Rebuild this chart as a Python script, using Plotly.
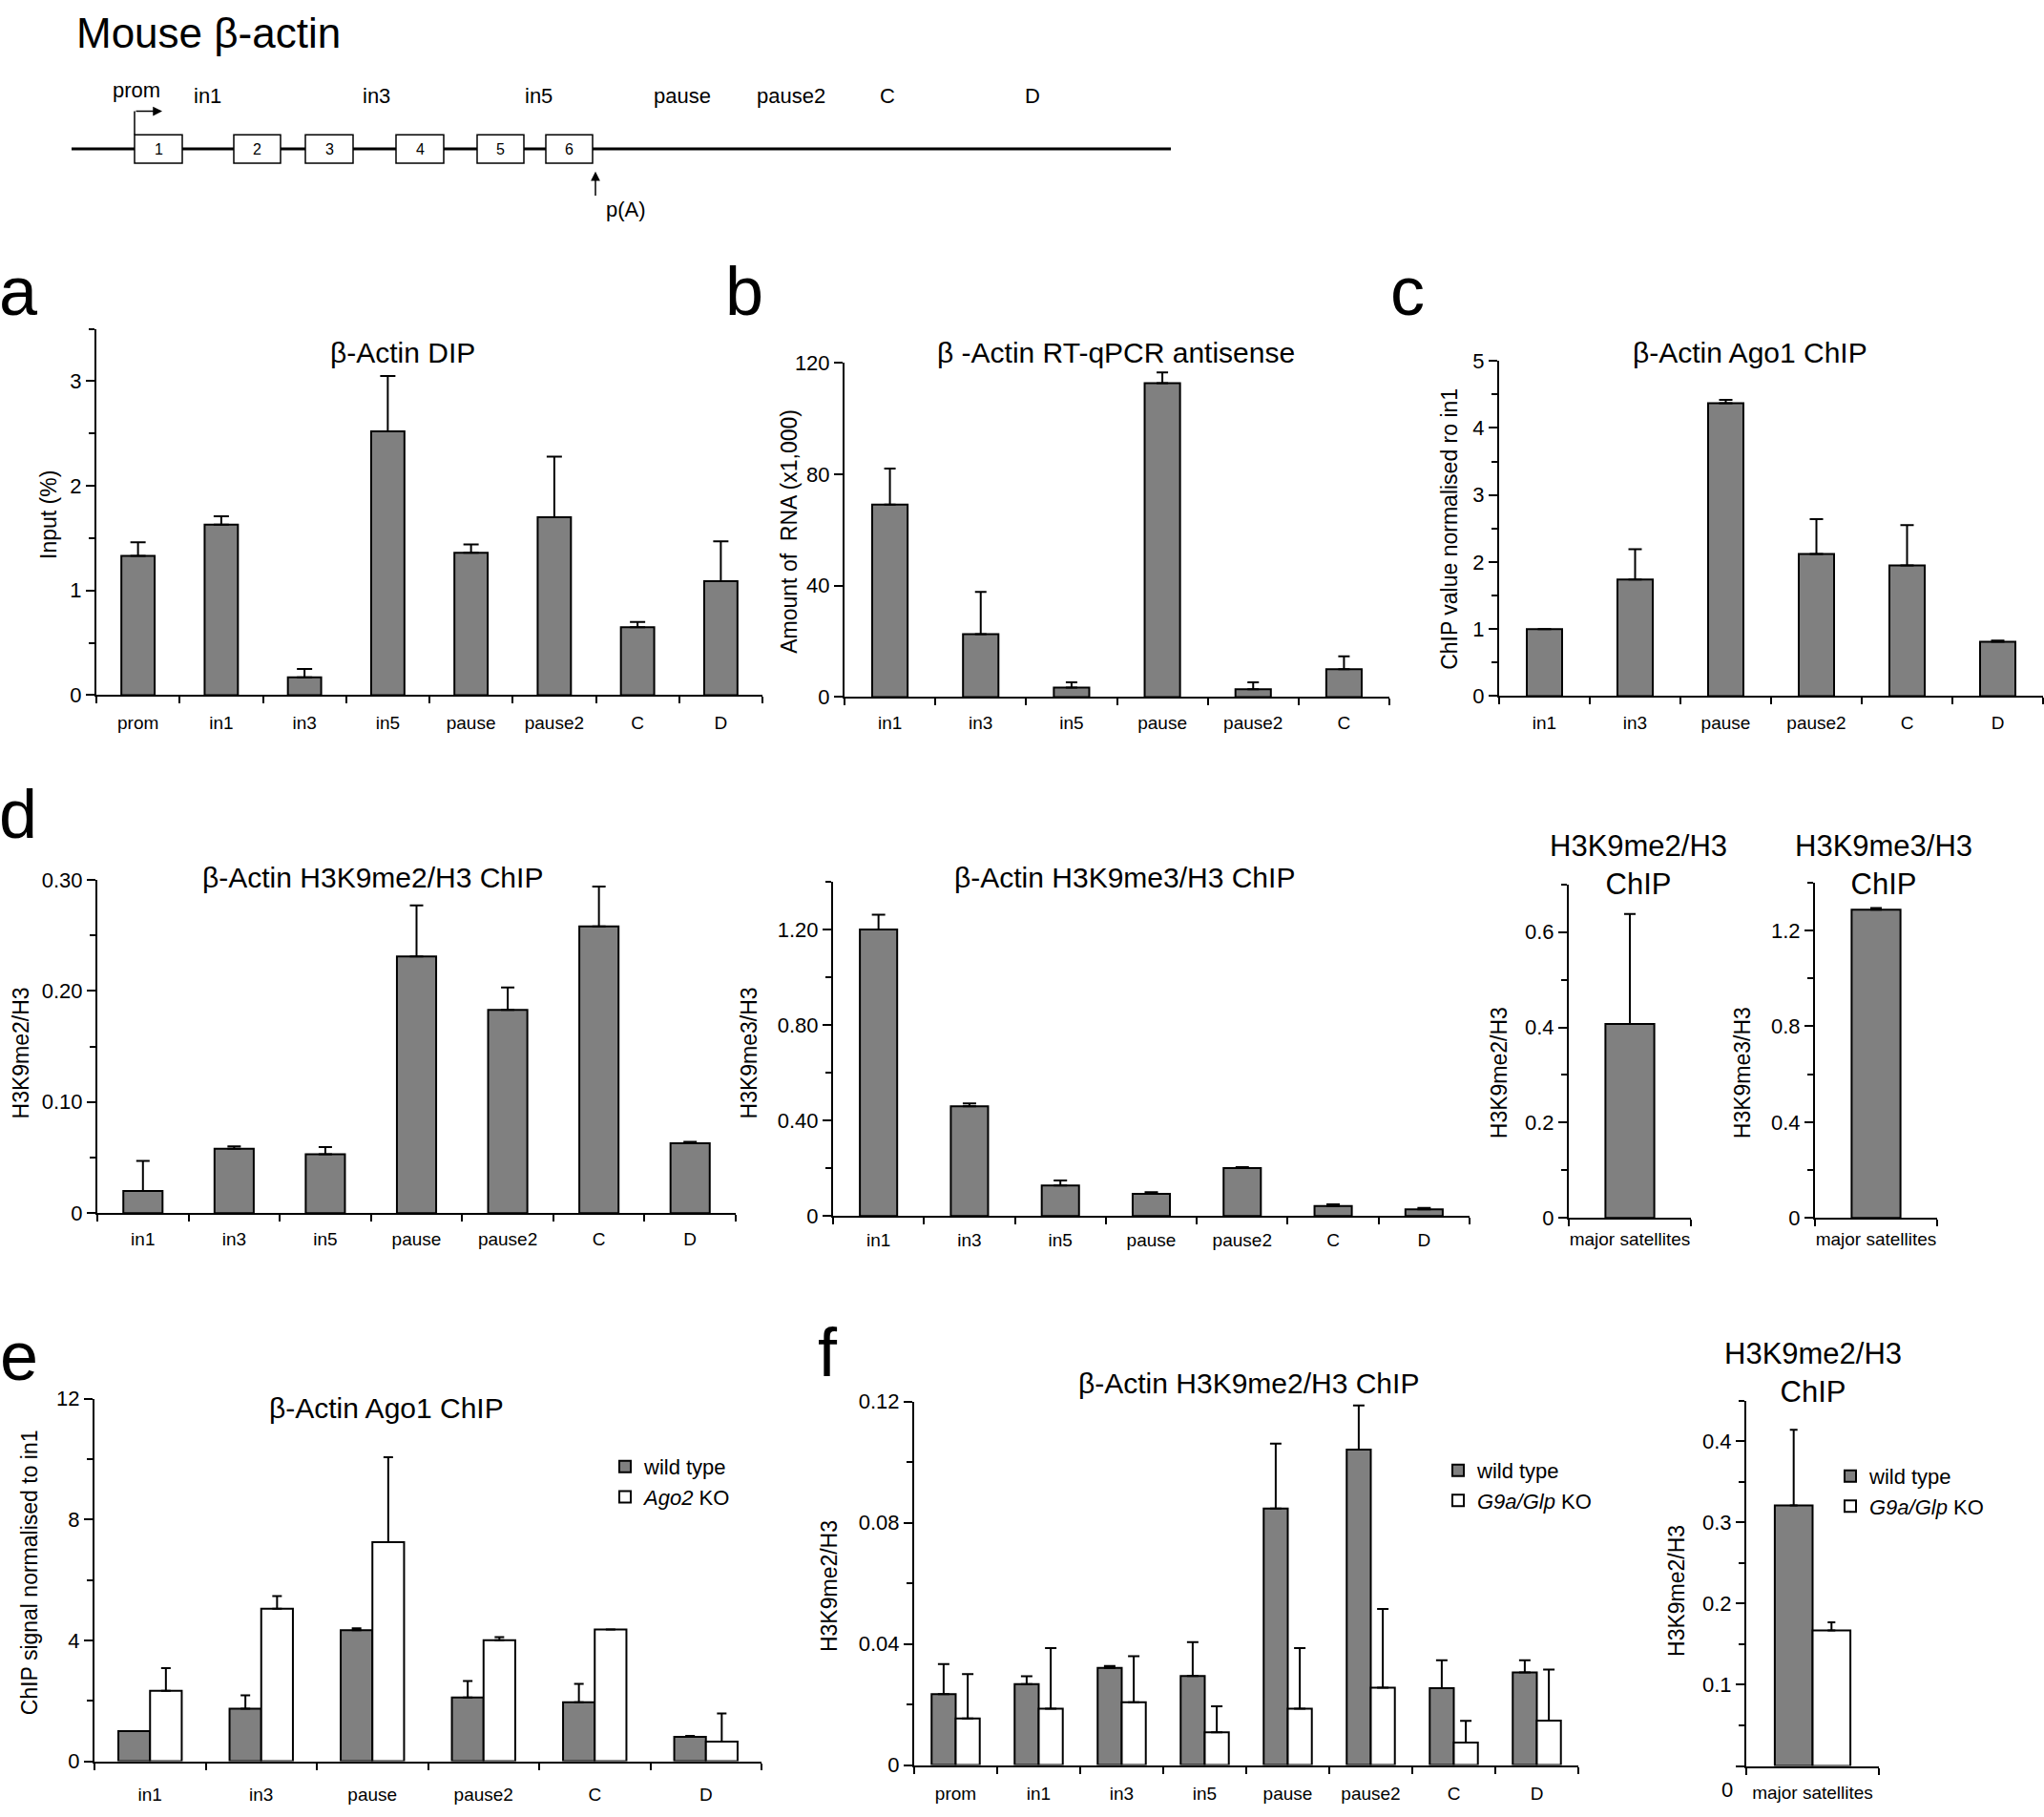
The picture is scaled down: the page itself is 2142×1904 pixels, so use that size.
import plotly.graph_objects as go

W, H = 2142, 1904
FONT = "Liberation Sans, Arial, Helvetica, sans-serif"
GRAY = "#808080"

# ---------------- data ----------------
# gene schematic (arbitrary schematic units along the locus)
gene_length = 1152
exon_start = [66, 170, 245, 340, 425, 497]
exon_end = [116, 219, 295, 390, 474, 546]
exon_labels = ["1", "2", "3", "4", "5", "6"]
region_names = ["prom", "in1", "in3", "in5", "pause", "pause2", "C", "D"]
region_pos = [68, 142, 319, 489, 640, 754, 855, 1007]
tss_pos = 66
polyA_pos = 549

# a: DIP
a_cats = ["prom", "in1", "in3", "in5", "pause", "pause2", "C", "D"]
a_vals = [1.33, 1.63, 0.17, 2.52, 1.36, 1.70, 0.65, 1.09]
a_err = [0.13, 0.08, 0.08, 0.53, 0.08, 0.58, 0.05, 0.38]
a_yticks = [0, 1, 2, 3]

# b: RT-qPCR antisense
b_cats = ["in1", "in3", "in5", "pause", "pause2", "C"]
b_vals = [69.1, 22.6, 3.4, 112.7, 2.8, 10.0]
b_err = [12.9, 15.1, 1.9, 3.8, 2.5, 4.6]
b_yticks = [0, 40, 80, 120]

# c: Ago1 ChIP
c_cats = ["in1", "in3", "pause", "pause2", "C", "D"]
c_vals = [1.00, 1.74, 4.37, 2.12, 1.95, 0.81]
c_err = [0.0, 0.45, 0.05, 0.52, 0.60, 0.02]
c_yticks = [0, 1, 2, 3, 4, 5]

# d: H3K9me2 / H3K9me3
d_cats = ["in1", "in3", "in5", "pause", "pause2", "C", "D"]
d1_vals = [0.020, 0.058, 0.053, 0.231, 0.183, 0.258, 0.063]
d1_err = [0.027, 0.002, 0.0065, 0.046, 0.020, 0.036, 0.0012]
d1_yticks = [0, 0.10, 0.20, 0.30]
d1_yticklabels = ["0", "0.10", "0.20", "0.30"]

d2_vals = [1.20, 0.459, 0.128, 0.093, 0.201, 0.042, 0.028]
d2_err = [0.062, 0.012, 0.021, 0.007, 0.004, 0.007, 0.006]
d2_yticks = [0, 0.4, 0.8, 1.2]
d2_yticklabels = ["0", "0.40", "0.80", "1.20"]

sat_cats = ["major satellites"]
d3_vals = [0.407]
d3_err = [0.231]
d3_yticks = [0, 0.2, 0.4, 0.6]
d3_yticklabels = ["0", "0.2", "0.4", "0.6"]
d4_vals = [1.287]
d4_err = [0.007]
d4_yticks = [0, 0.4, 0.8, 1.2]
d4_yticklabels = ["0", "0.4", "0.8", "1.2"]

# e: Ago1 ChIP wt vs Ago2 KO
e_cats = ["in1", "in3", "pause", "pause2", "C", "D"]
e_wt = [1.00, 1.74, 4.34, 2.11, 1.95, 0.81]
e_wt_err = [0.0, 0.44, 0.06, 0.55, 0.61, 0.03]
e_ko = [2.33, 5.05, 7.25, 4.01, 4.36, 0.65]
e_ko_err = [0.75, 0.42, 2.81, 0.10, 0.0, 0.93]
e_yticks = [0, 4, 8, 12]

# f: H3K9me2 wt vs G9a/Glp KO
f_cats = ["prom", "in1", "in3", "in5", "pause", "pause2", "C", "D"]
f_wt = [0.0234, 0.0267, 0.0321, 0.0294, 0.0847, 0.1041, 0.0254, 0.0306]
f_wt_err = [0.0099, 0.0026, 0.0006, 0.0112, 0.0214, 0.0146, 0.0092, 0.0040]
f_ko = [0.0154, 0.0186, 0.0207, 0.0108, 0.0186, 0.0255, 0.0074, 0.0147]
f_ko_err = [0.0146, 0.0200, 0.0152, 0.0086, 0.0200, 0.0260, 0.0072, 0.0168]
f_yticks = [0, 0.04, 0.08, 0.12]
f_yticklabels = ["0", "0.04", "0.08", "0.12"]

f2_wt = [0.321]
f2_wt_err = [0.093]
f2_ko = [0.167]
f2_ko_err = [0.010]
f2_yticks = [0, 0.1, 0.2, 0.3, 0.4]
f2_yticklabels = ["", "0.1", "0.2", "0.3", "0.4"]

# ---------------- layout helpers ----------------
def fx(p):
    return p / W


def fy(p):
    return 1 - p / H


fig = go.Figure()
layout = dict(
    width=W, height=H,
    margin=dict(l=0, r=0, t=0, b=0),
    paper_bgcolor="white", plot_bgcolor="white",
    font=dict(family=FONT, color="black"),
    barmode="overlay",
    showlegend=True,
)
annotations = []
shapes = []


def ax_name(n):
    return ("xaxis" if n == 1 else f"xaxis{n}"), ("yaxis" if n == 1 else f"yaxis{n}")


def ref(n):
    return ("x" if n == 1 else f"x{n}"), ("y" if n == 1 else f"y{n}")


def minor_vals(ymax, step, majors):
    out = []
    if step is None:
        return out
    k = 0
    while k * step <= ymax + 1e-9:
        v = round(k * step, 6)
        if all(abs(v - m) > 1e-9 for m in majors):
            out.append(v)
        k += 1
    return out


def setup_axes(n, xpx, ypx, ymax, ncat, cats, yticks, yticktext=None, ystep=None,
               xstand=10, xfont=19, yfont=22):
    xn, yn = ax_name(n)
    xr, yr = ref(n)
    layout[xn] = dict(
        domain=[fx(xpx[0]), fx(xpx[1])], range=[0, ncat], anchor=yr,
        tickmode="array", tickvals=[i + 0.5 for i in range(ncat)], ticktext=cats,
        ticks="", showline=True, linecolor="black", linewidth=2,
        showgrid=False, zeroline=False, fixedrange=True,
        tickfont=dict(size=xfont, family=FONT, color="black"),
        ticklabelstandoff=xstand,
        minor=dict(tickmode="array", tickvals=list(range(ncat + 1)), ticks="outside",
                   ticklen=7, tickwidth=2, tickcolor="black", showgrid=False),
    )
    layout[yn] = dict(
        domain=[fy(ypx[0]), fy(ypx[1])], range=[0, ymax], anchor=xr,
        tickmode="array", tickvals=yticks,
        ticktext=yticktext if yticktext is not None else [str(v) for v in yticks],
        ticks="outside", ticklen=9, tickwidth=2, tickcolor="black",
        showline=True, linecolor="black", linewidth=2,
        showgrid=False, zeroline=False, fixedrange=True,
        tickfont=dict(size=yfont, family=FONT, color="black"),
        minor=dict(tickmode="array", tickvals=minor_vals(ymax, ystep, yticks),
                   ticks="outside", ticklen=6, tickwidth=2, tickcolor="black",
                   showgrid=False),
    )


def err(plus, cap):
    return dict(type="data", symmetric=False, array=plus, arrayminus=[0] * len(plus),
                color="black", thickness=2, width=cap, visible=True)


def single_bars(n, cats, vals, errs, bw, cap):
    xr, yr = ref(n)
    fig.add_trace(go.Bar(
        x=[i + 0.5 for i in range(len(cats))], y=vals, width=bw,
        marker=dict(color=GRAY, line=dict(color="black", width=2)),
        error_y=err(errs, cap), xaxis=xr, yaxis=yr, showlegend=False,
        hoverinfo="skip",
    ))


def pair_bars(n, cats, wt, wt_err, ko, ko_err, bw, cap, legend, ko_name):
    xr, yr = ref(n)
    xs = [i + 0.5 for i in range(len(cats))]
    fig.add_trace(go.Bar(
        x=xs, y=wt, width=bw, offset=-bw, name="wild type",
        marker=dict(color=GRAY, line=dict(color="black", width=2)),
        error_y=err(wt_err, cap), xaxis=xr, yaxis=yr, legend=legend,
        showlegend=True, hoverinfo="skip",
    ))
    fig.add_trace(go.Bar(
        x=xs, y=ko, width=bw, offset=0, name=ko_name,
        marker=dict(color="white", line=dict(color="black", width=2)),
        error_y=err(ko_err, cap), xaxis=xr, yaxis=yr, legend=legend,
        showlegend=True, hoverinfo="skip",
    ))


def text_ann(x, y, text, size, angle=0, xanchor="center", yanchor="middle", xref="paper", yref="paper"):
    annotations.append(dict(
        x=x, y=y, xref=xref, yref=yref, text=text, showarrow=False,
        font=dict(size=size, family=FONT, color="black"), textangle=angle,
        xanchor=xanchor, yanchor=yanchor,
    ))


# ---------------- panels ----------------
# a
setup_axes(1, (101, 799), (726, 337), 3.5, len(a_cats), a_cats, a_yticks, ystep=0.5, xstand=11)
single_bars(1, a_cats, a_vals, a_err, 0.4, 8)
# b
setup_axes(2, (885, 1456), (728, 373), 120, len(b_cats), b_cats, b_yticks, ystep=None, xstand=9)
single_bars(2, b_cats, b_vals, b_err, 0.39, 6)
# c
setup_axes(3, (1571, 2141), (727, 371), 5, len(c_cats), c_cats, c_yticks, ystep=0.5, xstand=10)
single_bars(3, c_cats, c_vals, c_err, 0.39, 7)
# d1
setup_axes(4, (102, 771), (1276, 922), 0.30, len(d_cats), d_cats, d1_yticks, d1_yticklabels, ystep=0.05, xstand=9)
single_bars(4, d_cats, d1_vals, d1_err, 0.43, 7)
# d2
setup_axes(5, (873, 1540), (1279, 924), 1.4, len(d_cats), d_cats, d2_yticks, d2_yticklabels, ystep=0.2, xstand=7)
single_bars(5, d_cats, d2_vals, d2_err, 0.41, 7)
# d3
setup_axes(6, (1644, 1772), (1281, 927), 0.7, 1, sat_cats, d3_yticks, d3_yticklabels, ystep=0.1, xstand=4)
single_bars(6, sat_cats, d3_vals, d3_err, 0.4, 6)
# d4
setup_axes(7, (1902, 2030), (1281, 925), 1.4, 1, sat_cats, d4_yticks, d4_yticklabels, ystep=0.2, xstand=4)
single_bars(7, sat_cats, d4_vals, d4_err, 0.4, 6)
# e
setup_axes(8, (99, 798), (1858, 1473), 12, len(e_cats), e_cats, e_yticks, ystep=2, xstand=17)
pair_bars(8, e_cats, e_wt, e_wt_err, e_ko, e_ko_err, 0.285, 5, "legend", "<i>Ago2</i> KO")
# f1
setup_axes(9, (958, 1654), (1862, 1476), 0.12, len(f_cats), f_cats, f_yticks, f_yticklabels, ystep=0.02, xstand=12)
pair_bars(9, f_cats, f_wt, f_wt_err, f_ko, f_ko_err, 0.29, 6, "legend2", "<i>G9a/Glp</i> KO")
# f2
setup_axes(10, (1830, 1969), (1863, 1475), 0.45, 1, sat_cats, f2_yticks, f2_yticklabels, ystep=0.05, xstand=10)
pair_bars(10, sat_cats, f2_wt, f2_wt_err, f2_ko, f2_ko_err, 0.285, 4, "legend3", "<i>G9a/Glp</i> KO")

legend_common = dict(font=dict(size=22, family=FONT, color="black"), bgcolor="rgba(0,0,0,0)",
                     borderwidth=0, xanchor="left", yanchor="top", traceorder="normal",
                     itemclick=False, itemdoubleclick=False)
layout["legend"] = dict(legend_common, x=fx(635), y=fy(1524))
layout["legend2"] = dict(legend_common, x=fx(1508), y=fy(1528))
layout["legend3"] = dict(legend_common, x=fx(1919), y=fy(1534))

# titles
TITLE = 30
text_ann(fx(422), fy(362), "β-Actin DIP", TITLE)
text_ann(fx(1170), fy(362), "β -Actin RT-qPCR antisense", TITLE)
text_ann(fx(1834), fy(362), "β-Actin Ago1 ChIP", TITLE)
text_ann(fx(390), fy(920), "β-Actin H3K9me2/H3 ChIP", TITLE)
text_ann(fx(1178), fy(920), "β-Actin H3K9me3/H3 ChIP", TITLE)
text_ann(fx(1717), fy(906), "H3K9me2/H3<br>ChIP", 31)
text_ann(fx(1974), fy(906), "H3K9me3/H3<br>ChIP", 31)
text_ann(fx(405), fy(1483), "β-Actin Ago1 ChIP", TITLE)
text_ann(fx(1308), fy(1457), "β-Actin H3K9me2/H3 ChIP", TITLE)
text_ann(fx(1900), fy(1445), "H3K9me2/H3<br>ChIP", 31)

# y-axis titles
YT = 23
text_ann(fx(51), fy(535), "Input (%)", YT, -90)
text_ann(fx(827), fy(552), "Amount of  RNA (x1,000)", YT, -90)
text_ann(fx(1519), fy(550), "ChIP value normalised ro in1", YT, -90)
text_ann(fx(22), fy(1106), "H3K9me2/H3", YT, -90)
text_ann(fx(785), fy(1106), "H3K9me3/H3", YT, -90)
text_ann(fx(1571), fy(1127), "H3K9me2/H3", YT, -90)
text_ann(fx(1826), fy(1127), "H3K9me3/H3", YT, -90)
text_ann(fx(31), fy(1658), "ChIP signal normalised to in1", YT, -90)
text_ann(fx(869), fy(1672), "H3K9me2/H3", YT, -90)
text_ann(fx(1757), fy(1677), "H3K9me2/H3", YT, -90)
# zero label of the last panel, printed on the label row
text_ann(fx(1810), fy(1888), "0", 22)

# panel letters
LET = 72
text_ann(fx(19), fy(297), "a", LET)
text_ann(fx(780), fy(297), "b", LET)
text_ann(fx(1475), fy(297), "c", LET)
text_ann(fx(19), fy(852), "d", LET)
text_ann(fx(20), fy(1428), "e", LET)
text_ann(fx(867), fy(1424), "f", LET)

# header
text_ann(fx(78), fy(23), "Mouse β-actin", 44, xanchor="left")

# ---------------- gene schematic ----------------
layout["xaxis11"] = dict(domain=[fx(75), fx(1227)], range=[0, gene_length], visible=False,
                         anchor="y11", fixedrange=True)
layout["yaxis11"] = dict(domain=[fy(235), fy(35)], range=[235, 35], visible=False,
                         anchor="x11", fixedrange=True)
fig.add_trace(go.Scatter(x=[0, gene_length], y=[146, 146], mode="lines",
                         line=dict(color="black", width=3), xaxis="x11", yaxis="y11",
                         showlegend=False, hoverinfo="skip"))
for s, e_, lab in zip(exon_start, exon_end, exon_labels):
    shapes.append(dict(type="rect", xref="x11", yref="y11", x0=s, x1=e_, y0=131, y1=161,
                       fillcolor="white", line=dict(color="black", width=1.5), layer="above"))
    text_ann((s + e_) / 2, 146, lab, 16, xref="x11", yref="y11")
for pos, name in zip(region_pos, region_names):
    text_ann(pos, 84 if name == "prom" else 90, name, 22, xref="x11", yref="y11")
# TSS arrow
shapes.append(dict(type="line", xref="x11", yref="y11", x0=tss_pos, x1=tss_pos, y0=131, y1=106,
                   line=dict(color="black", width=1.5)))
annotations.append(dict(x=tss_pos + 29, y=106, ax=tss_pos, ay=106, xref="x11", yref="y11",
                        axref="x11", ayref="y11", text="", showarrow=True, arrowhead=2,
                        arrowsize=1.3, arrowwidth=1.5, arrowcolor="black"))
# polyA arrow
annotations.append(dict(x=polyA_pos, y=170, ax=polyA_pos, ay=197, xref="x11", yref="y11",
                        axref="x11", ayref="y11", text="", showarrow=True, arrowhead=2,
                        arrowsize=1.3, arrowwidth=1.5, arrowcolor="black"))
text_ann(polyA_pos + 9, 210, "p(A)", 22, xanchor="left", xref="x11", yref="y11")

layout["annotations"] = annotations
layout["shapes"] = shapes
fig.update_layout(**layout)
fig.write_html("out.html",
               config={"displayModeBar": False, "staticPlot": True},
               post_script="document.body.style.margin='0px';document.body.style.overflow='hidden';")
